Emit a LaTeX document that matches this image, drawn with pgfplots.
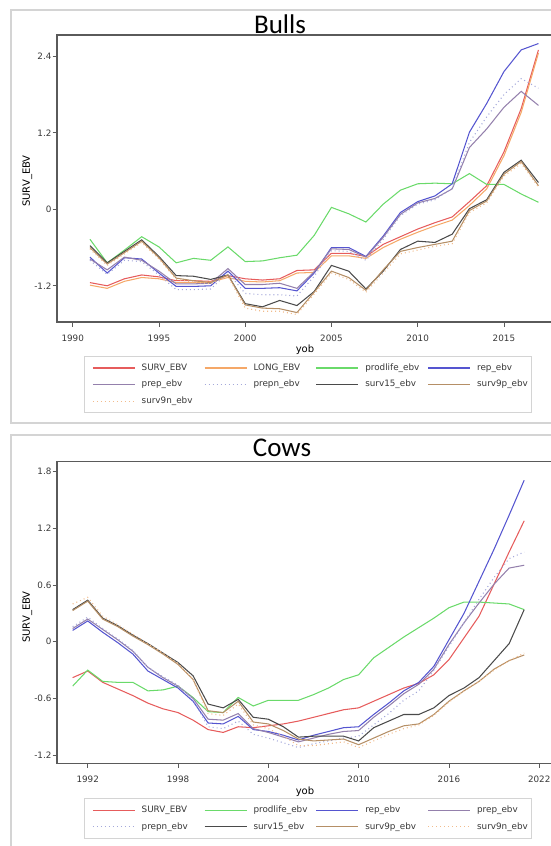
\documentclass[border=0pt]{standalone}
\usepackage{fontspec}
\setmainfont{DejaVu Sans}
\newfontfamily\titlefont{Carlito}
\usepackage{pgfplots}
\usepackage{pgfplotstable}
\pgfplotsset{compat=1.18}

\definecolor{cSurv}{HTML}{E65C5C}
\definecolor{cLong}{HTML}{F5A868}
\definecolor{cProd}{HTML}{6ADA6A}
\definecolor{cRep}{HTML}{5555D0}
\definecolor{cPrep}{HTML}{9480AC}
\definecolor{cPrepn}{HTML}{A4A8DA}
\definecolor{cSf}{HTML}{4A4A4A}
\definecolor{cSp}{HTML}{B58F66}
\definecolor{cSn}{HTML}{F2BC8C}
\definecolor{frameg}{HTML}{D4D4D4}
\definecolor{axisc}{HTML}{5A5A5A}
\definecolor{txt}{HTML}{383838}

\pgfplotstableread{
yr surv long prod rep prep prepn sf sp sn
1991 -1.15 -1.19 -0.47 -0.75 -0.78 -0.80 -0.57 -0.60 -0.62
1992 -1.20 -1.24 -0.84 -1.00 -0.95 -1.02 -0.84 -0.86 -0.88
1993 -1.09 -1.13 -0.64 -0.76 -0.75 -0.80 -0.66 -0.68 -0.70
1994 -1.03 -1.07 -0.43 -0.78 -0.80 -0.82 -0.48 -0.50 -0.52
1995 -1.06 -1.09 -0.59 -1.00 -0.97 -1.03 -0.74 -0.76 -0.78
1996 -1.12 -1.15 -0.84 -1.21 -1.17 -1.26 -1.04 -1.08 -1.10
1997 -1.12 -1.15 -0.77 -1.21 -1.17 -1.26 -1.05 -1.12 -1.14
1998 -1.13 -1.14 -0.80 -1.20 -1.16 -1.25 -1.10 -1.15 -1.17
1999 -1.04 -1.07 -0.59 -0.97 -0.93 -0.99 -1.03 -1.03 -1.05
2000 -1.09 -1.13 -0.82 -1.24 -1.18 -1.32 -1.48 -1.50 -1.55
2001 -1.11 -1.14 -0.81 -1.24 -1.18 -1.34 -1.53 -1.55 -1.60
2002 -1.09 -1.12 -0.76 -1.23 -1.16 -1.34 -1.43 -1.56 -1.60
2003 -0.96 -1.00 -0.72 -1.28 -1.24 -1.36 -1.51 -1.62 -1.65
2004 -0.95 -0.99 -0.41 -1.00 -0.98 -1.05 -1.29 -1.30 -1.33
2005 -0.69 -0.73 0.03 -0.60 -0.62 -0.65 -0.88 -0.97 -1.00
2006 -0.69 -0.73 -0.07 -0.60 -0.63 -0.66 -0.97 -1.07 -1.10
2007 -0.74 -0.77 -0.20 -0.74 -0.75 -0.80 -1.25 -1.27 -1.30
2008 -0.55 -0.60 0.08 -0.42 -0.44 -0.47 -0.97 -0.95 -1.00
2009 -0.43 -0.47 0.30 -0.05 -0.08 -0.10 -0.63 -0.66 -0.70
2010 -0.31 -0.36 0.40 0.12 0.10 0.08 -0.50 -0.60 -0.64
2011 -0.21 -0.26 0.41 0.21 0.17 0.15 -0.52 -0.55 -0.58
2012 -0.12 -0.17 0.40 0.40 0.32 0.33 -0.39 -0.50 -0.54
2013 0.12 0.06 0.56 1.21 0.97 1.05 0.01 -0.02 -0.05
2014 0.37 0.32 0.39 1.66 1.26 1.45 0.15 0.13 0.10
2015 0.90 0.84 0.39 2.16 1.60 1.80 0.58 0.55 0.52
2016 1.58 1.52 0.24 2.50 1.85 2.05 0.77 0.75 0.72
2017 2.50 2.45 0.11 2.60 1.63 1.90 0.42 0.37 0.35
}\bulls

\pgfplotstableread{
yr surv prod rep prep prepn sf sp sn
1991 -0.38 -0.47 0.12 0.14 0.16 0.34 0.33 0.40
1992 -0.31 -0.30 0.22 0.24 0.26 0.44 0.43 0.47
1993 -0.43 -0.42 0.10 0.13 0.14 0.25 0.24 0.27
1994 -0.50 -0.43 -0.01 0.02 0.03 0.17 0.16 0.18
1995 -0.57 -0.43 -0.13 -0.10 -0.09 0.07 0.06 0.08
1996 -0.65 -0.52 -0.31 -0.27 -0.27 -0.02 -0.03 -0.02
1997 -0.71 -0.51 -0.40 -0.38 -0.37 -0.12 -0.13 -0.12
1998 -0.75 -0.47 -0.49 -0.47 -0.46 -0.22 -0.24 -0.23
1999 -0.83 -0.59 -0.63 -0.60 -0.61 -0.36 -0.40 -0.40
2000 -0.93 -0.74 -0.86 -0.82 -0.90 -0.66 -0.73 -0.76
2001 -0.96 -0.75 -0.87 -0.83 -0.92 -0.70 -0.75 -0.78
2002 -0.90 -0.59 -0.79 -0.76 -0.84 -0.61 -0.63 -0.66
2003 -0.91 -0.68 -0.93 -0.92 -0.98 -0.80 -0.85 -0.88
2004 -0.89 -0.62 -0.95 -0.96 -1.02 -0.82 -0.87 -0.92
2005 -0.87 -0.62 -0.99 -1.01 -1.07 -0.90 -0.94 -1.00
2006 -0.84 -0.62 -1.04 -1.06 -1.12 -1.01 -1.03 -1.10
2007 -0.80 -0.56 -0.99 -1.02 -1.08 -1.00 -1.05 -1.10
2008 -0.76 -0.49 -0.95 -0.98 -1.05 -1.00 -1.04 -1.08
2009 -0.72 -0.40 -0.91 -0.95 -1.02 -1.00 -1.03 -1.06
2010 -0.70 -0.35 -0.90 -0.94 -1.00 -1.05 -1.09 -1.12
2011 -0.63 -0.17 -0.77 -0.80 -0.88 -0.91 -1.02 -1.05
2012 -0.56 -0.06 -0.65 -0.68 -0.76 -0.84 -0.95 -0.98
2013 -0.49 0.05 -0.52 -0.55 -0.62 -0.77 -0.89 -0.92
2014 -0.44 0.15 -0.43 -0.45 -0.52 -0.77 -0.87 -0.88
2015 -0.35 0.25 -0.26 -0.29 -0.30 -0.70 -0.77 -0.78
2016 -0.19 0.36 0.02 -0.03 -0.05 -0.57 -0.63 -0.64
2017 0.04 0.42 0.30 0.20 0.20 -0.49 -0.52 -0.52
2018 0.27 0.42 0.64 0.41 0.45 -0.38 -0.42 -0.42
2019 0.61 0.41 0.98 0.61 0.68 -0.20 -0.29 -0.30
2020 0.95 0.40 1.34 0.78 0.88 -0.02 -0.20 -0.20
2021 1.28 0.34 1.71 0.81 0.95 0.34 -0.14 -0.12
}\cows

\newcommand\smallf{\fontsize{8.8}{10}\selectfont}
\newcommand\legent[1]{\makebox[45pt][l]{#1}}

\pgfplotsset{
  legend image code/.code={\draw[#1, line width=1.3pt] (0pt,0pt) -- (42pt,0pt);},
  ebv/.style={
    scale only axis, width=503pt,
    axis line style={axisc, line width=1.2pt},
    tick style={axisc, line width=0.8pt},
    tick align=outside, major tick length=4.5pt,
    tick pos=left,
    /pgf/number format/assume math mode=true,
    /pgf/number format/1000 sep={},
    ticklabel style={font=\smallf, text=txt},
    xticklabel style={yshift=-5pt},
    yticklabel style={xshift=2.5pt},
    label style={font=\smallf, text=txt},
    every axis y label/.style={rotate=90, anchor=center},
    legend columns=4,
    legend cell align=left,
    legend style={draw=frameg, line width=0.8pt, fill=white,
      inner xsep=7.7pt, inner ysep=5.3pt, anchor=north west,
      font=\smallf, text=txt,
      nodes={inner sep=2pt, text height=6.5pt, text depth=2pt},
      /tikz/every odd column/.append style={column sep=4.3pt},
      /tikz/every even column/.append style={column sep=15.2pt},
      row sep=4.1pt},
    every axis plot/.append style={line width=1.05pt, mark=none},
  },
  dots/.style={line width=1.1pt, dash pattern=on 1pt off 3pt},
}

\begin{document}
\begin{tikzpicture}
\path[use as bounding box] (0pt,0pt) rectangle (550pt,-846pt);
\draw[frameg, line width=1.2pt] (11pt,-10pt) rectangle (600pt,-423pt);
\draw[frameg, line width=1.2pt] (11pt,-435pt) rectangle (600pt,-900pt);
\node[font=\titlefont\fontsize{27}{27}\selectfont, anchor=base] at (280pt,-33.3pt) {Bulls};
\node[font=\titlefont\fontsize{27}{27}\selectfont, anchor=base] at (282pt,-456.7pt) {Cows};

\begin{axis}[ebv,
  at={(57pt,-322pt)}, anchor=south west, height=287pt,
  xmin=1989.09, xmax=2018.25, ymin=-1.768, ymax=2.734,
  xtick={1990,1995,2000,2005,2010,2015},
  ytick={-1.2,0,1.2,2.4}, yticklabels={-1.2,0,1.2,2.4},
  xlabel={yob}, ylabel={SURV\_EBV},
  every axis x label/.style={at={(axis description cs:0.493,0)}, anchor=center, yshift=-27.6pt},
  ylabel style={at={(axis description cs:-0.0592,0.491)}},
  legend style={at={(axis description cs:0.0537,-0.1185)}},
]
\addplot[cSurv] table[x=yr,y=surv]{\bulls}; \addlegendentry{\legent{SURV\_EBV}}
\addplot[cLong] table[x=yr,y=long]{\bulls}; \addlegendentry{\legent{LONG\_EBV}}
\addplot[cProd] table[x=yr,y=prod]{\bulls}; \addlegendentry{\legent{prodlife\_ebv}}
\addplot[cRep] table[x=yr,y=rep]{\bulls}; \addlegendentry{\legent{rep\_ebv}}
\addplot[cPrep] table[x=yr,y=prep]{\bulls}; \addlegendentry{\legent{prep\_ebv}}
\addplot[cPrepn,dots] table[x=yr,y=prepn]{\bulls}; \addlegendentry{\legent{prepn\_ebv}}
\addplot[cSf] table[x=yr,y=sf]{\bulls}; \addlegendentry{\legent{surv15\_ebv}}
\addplot[cSp] table[x=yr,y=sp]{\bulls}; \addlegendentry{\legent{surv9p\_ebv}}
\addplot[cSn,dots] table[x=yr,y=sn]{\bulls}; \addlegendentry{\legent{surv9n\_ebv}}
\end{axis}

\begin{axis}[ebv,
  at={(57pt,-763.3pt)}, anchor=south west, height=301.6pt,
  xmin=1989.96, xmax=2023.38, ymin=-1.287, ymax=1.906,
  xtick={1992,1998,2004,2010,2016,2022},
  ytick={-1.2,-0.6,0,0.6,1.2,1.8}, yticklabels={-1.2,-0.6,0,0.6,1.2,1.8},
  xlabel={yob}, ylabel={SURV\_EBV},
  every axis x label/.style={at={(axis description cs:0.493,0)}, anchor=center, yshift=-28.4pt},
  ylabel style={at={(axis description cs:-0.0592,0.485)}},
  legend style={at={(axis description cs:0.0537,-0.116)}},
]
\addplot[cSurv] table[x=yr,y=surv]{\cows}; \addlegendentry{\legent{SURV\_EBV}}
\addplot[cProd] table[x=yr,y=prod]{\cows}; \addlegendentry{\legent{prodlife\_ebv}}
\addplot[cRep] table[x=yr,y=rep]{\cows}; \addlegendentry{\legent{rep\_ebv}}
\addplot[cPrep] table[x=yr,y=prep]{\cows}; \addlegendentry{\legent{prep\_ebv}}
\addplot[cPrepn,dots] table[x=yr,y=prepn]{\cows}; \addlegendentry{\legent{prepn\_ebv}}
\addplot[cSf] table[x=yr,y=sf]{\cows}; \addlegendentry{\legent{surv15\_ebv}}
\addplot[cSp] table[x=yr,y=sp]{\cows}; \addlegendentry{\legent{surv9p\_ebv}}
\addplot[cSn,dots] table[x=yr,y=sn]{\cows}; \addlegendentry{\legent{surv9n\_ebv}}
\end{axis}
\end{tikzpicture}
\end{document}
